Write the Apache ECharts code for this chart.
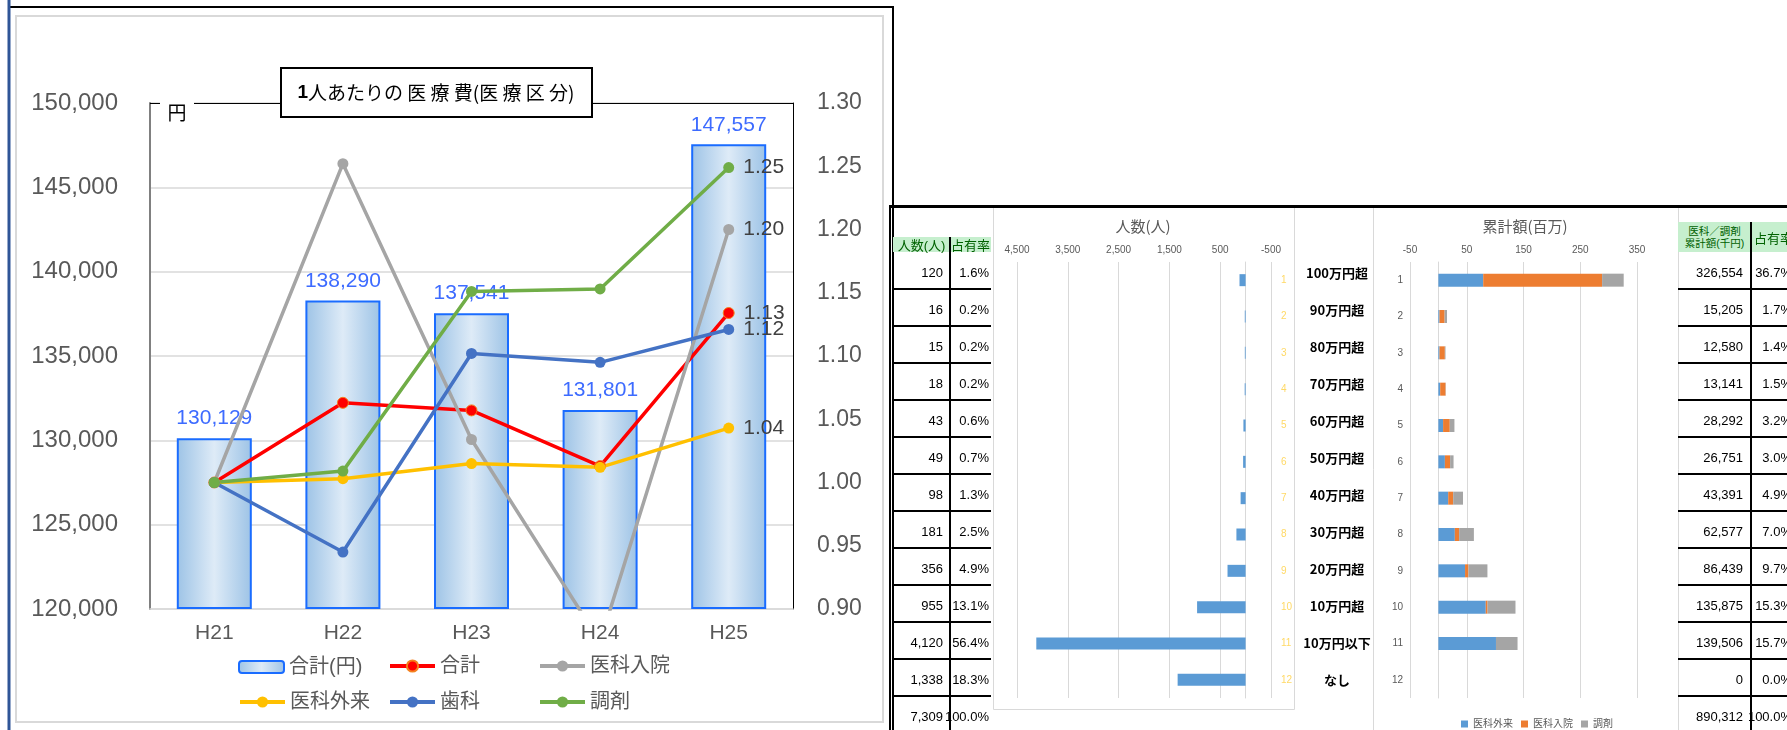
<!DOCTYPE html>
<html>
<head>
<meta charset="utf-8">
<script src="https://cdn.jsdelivr.net/npm/echarts@6/dist/echarts.min.js"></script>
<style>
  html, body { margin: 0; padding: 0; background: #fff; }
  #page { position: relative; width: 1787px; height: 730px; overflow: hidden; background: #fff; }
  #costChart { position: absolute; left: 0; top: 0; width: 896px; height: 730px; }
  #bandChart { position: absolute; left: 893px; top: 0; width: 894px; height: 730px; }
  .c { position: absolute; box-sizing: border-box; display: flex; align-items: center; white-space: nowrap;
       font-family: 'Liberation Sans', 'Noto Sans CJK JP', sans-serif; color: #000; }
</style>
</head>
<body>
<div id="page">
  <div id="costChart"></div>
  <div id="bandChart"></div>
</div>
<script>
// ---- 1人あたりの医療費 (H21 = 1.00 とした伸び率) ----
const years = ['H21', 'H22', 'H23', 'H24', 'H25'];
const totalYen = [130129, 138290, 137541, 131801, 147557];
const ratioTotal = [1.00, 1.063, 1.057, 1.013, 1.134];
const ratioInpatient = [1.00, 1.252, 1.034, 0.874, 1.200];
const ratioOutpatient = [1.00, 1.003, 1.015, 1.012, 1.043];
const ratioDental = [1.00, 0.945, 1.102, 1.095, 1.121];
const ratioPharmacy = [1.00, 1.009, 1.151, 1.153, 1.249];

// ---- 医療費階層別 ----
const bandNo = ['1', '2', '3', '4', '5', '6', '7', '8', '9', '10', '11', '12'];
const bandLabels = ['100万円超', '90万円超', '80万円超', '70万円超', '60万円超', '50万円超',
                    '40万円超', '30万円超', '20万円超', '10万円超', '10万円以下', 'なし'];
const people = [120, 16, 15, 18, 43, 49, 98, 181, 356, 955, 4120, 1338];
const peopleShare = ['1.6%', '0.2%', '0.2%', '0.2%', '0.6%', '0.7%', '1.3%', '2.5%', '4.9%', '13.1%', '56.4%', '18.3%'];
const peopleTotal = 7309;
const peopleTotalShare = '100.0%';
// 累計額 (百万円) の内訳
const outpatientM = [79.0, 2.0, 2.0, 3.2, 8.3, 11.5, 17.3, 29.0, 47.0, 83.5, 101.5, 0];
const inpatientM  = [209.5, 9.0, 9.4, 9.5, 11.8, 9.2, 8.8, 7.6, 6.0, 3.2, 0, 0];
const pharmacyM   = [38.054, 4.205, 1.18, 0.441, 8.192, 6.051, 17.291, 25.977, 33.439, 49.175, 38.006, 0];
const amountK = [326554, 15205, 12580, 13141, 28292, 26751, 43391, 62577, 86439, 135875, 139506, 0];
const amountShare = ['36.7%', '1.7%', '1.4%', '1.5%', '3.2%', '3.0%', '4.9%', '7.0%', '9.7%', '15.3%', '15.7%', '0.0%'];
const amountTotal = 890312;
const amountTotalShare = '100.0%';
const peopleTicks = [-500, 500, 1500, 2500, 3500, 4500];
const amountTicks = [-50, 50, 150, 250, 350];

const FONT = "'Liberation Sans', 'Noto Sans CJK JP', sans-serif";
const fmt = v => Number(v).toLocaleString('en-US');

// ================= 左: 1人あたりの医療費 =================
const costChart = echarts.init(document.getElementById('costChart'), null, { renderer: 'canvas' });

function ratioLine(name, data, color, extra) {
  return Object.assign({
    name, type: 'line', yAxisIndex: 1, data,
    symbol: 'circle', symbolSize: 11,
    lineStyle: { color, width: 3.5 },
    itemStyle: { color },
    label: {
      show: true, position: 'right', distance: 9, color: '#404040', fontSize: 21, fontFamily: FONT,
      formatter: p => (p.dataIndex === data.length - 1 ? p.value.toFixed(2) : '')
    },
    z: 3
  }, extra || {});
}

// 凡例は 3 列 × 2 行に並べる
const legendItems = [
  ['合計(円)', 233, 652, 12], ['合計', 383, 651, 14], ['医科入院', 533, 651, 14],
  ['医科外来', 233, 687, 14], ['歯科', 383, 687, 14], ['調剤', 533, 687, 14]
];
const legends = legendItems.map(([name, left, top, h]) => ({
  data: [name], left, top, itemWidth: 45, itemHeight: h, selectedMode: false,
  lineStyle: { width: 4 },
  textStyle: { color: '#595959', fontSize: 20, fontFamily: FONT }
}));

costChart.setOption({
  animation: false,
  textStyle: { fontFamily: FONT },
  grid: { left: 150, top: 103, width: 643, height: 506 },
  xAxis: {
    type: 'category', data: years,
    axisLine: { lineStyle: { color: '#d9d9d9', width: 1.5 } },
    axisTick: { show: false },
    axisLabel: { color: '#595959', fontSize: 21, margin: 14 }
  },
  yAxis: [
    {
      type: 'value', min: 120000, max: 150000, interval: 5000, startValue: 120000,
      axisLine: { show: true, lineStyle: { color: '#808080', width: 2 } },
      axisTick: { show: false },
      splitLine: { lineStyle: { color: '#d9d9d9', width: 1.5 } },
      axisLabel: { color: '#595959', fontSize: 24, margin: 32, formatter: fmt }
    },
    {
      type: 'value', min: 0.9, max: 1.3, interval: 0.05, position: 'right',
      axisLine: { show: true, lineStyle: { color: '#000', width: 1 } },
      axisTick: { show: false },
      splitLine: { show: false },
      axisLabel: { color: '#595959', fontSize: 23, margin: 24, formatter: v => v.toFixed(2) }
    }
  ],
  legend: legends,
  series: [
    {
      name: '合計(円)', type: 'bar', data: totalYen, barWidth: 75,
      itemStyle: {
        color: new echarts.graphic.LinearGradient(0, 0, 1, 0, [
          { offset: 0, color: '#9dc3e6' },
          { offset: 0.5, color: '#deebf7' },
          { offset: 1, color: '#9dc3e6' }
        ]),
        borderColor: '#1a6cff', borderWidth: 2
      },
      label: { show: true, position: 'top', distance: 9, color: '#3d6bff', fontSize: 21, formatter: p => fmt(p.value) },
      z: 2
    },
    ratioLine('合計', ratioTotal, '#ff0000', { itemStyle: { color: '#ff0000', borderColor: '#f4811f', borderWidth: 1 } }),
    ratioLine('医科入院', ratioInpatient, '#a5a5a5'),
    ratioLine('医科外来', ratioOutpatient, '#ffc000'),
    ratioLine('歯科', ratioDental, '#4472c4'),
    ratioLine('調剤', ratioPharmacy, '#70ad47')
  ],
  graphic: [
    { type: 'line', shape: { x1: 9, y1: 7, x2: 894, y2: 7 }, style: { stroke: '#000', lineWidth: 2 }, z: 50 },
    { type: 'line', shape: { x1: 9, y1: 0, x2: 9, y2: 730 }, style: { stroke: '#2f5597', lineWidth: 3 }, z: 50 },
    { type: 'line', shape: { x1: 893, y1: 7, x2: 893, y2: 730 }, style: { stroke: '#000', lineWidth: 2 }, z: 50 },
    { type: 'rect', shape: { x: 16, y: 16, width: 867, height: 706 }, style: { fill: 'none', stroke: '#d9d9d9', lineWidth: 2 }, z: 50 },
    { type: 'line', shape: { x1: 150, y1: 103.5, x2: 793, y2: 103.5 }, style: { stroke: '#000', lineWidth: 1 }, z: 50 },
    { type: 'rect', shape: { x: 160, y: 99, width: 34, height: 9 }, style: { fill: '#fff' }, z: 51 },
    { type: 'text', x: 177, y: 113, style: { text: '円', fill: '#000', font: "19px 'Noto Sans CJK JP'", align: 'center', verticalAlign: 'middle' }, z: 52 },
    { type: 'rect', shape: { x: 281, y: 68, width: 311, height: 49 }, style: { fill: '#fff', stroke: '#000', lineWidth: 2 }, z: 51 },
    {
      type: 'text', x: 436, y: 93, z: 52,
      style: {
        text: '{b|1}人あたりの 医 療 費(医 療 区 分)',
        rich: { b: { font: "bold 19px 'Liberation Sans'", fill: '#000' } },
        font: "19px 'Noto Sans CJK JP'", fill: '#000', align: 'center', verticalAlign: 'middle'
      }
    }
  ]
});

// ================= 右: 医療費階層別の人数・累計額 =================
const bandChart = echarts.init(document.getElementById('bandChart'), null, { renderer: 'canvas' });
const stackBar = (name, data, color) => ({
  name, type: 'bar', stack: 'amount', xAxisIndex: 1, yAxisIndex: 1, data, barWidth: 13,
  itemStyle: { color }
});

bandChart.setOption({
  animation: false,
  textStyle: { fontFamily: FONT },
  grid: [
    { left: 124, right: 516, top: 262, bottom: 32 },
    { left: 517, right: 150, top: 262, bottom: 32 }
  ],
  xAxis: [
    {
      gridIndex: 0, type: 'value', inverse: true, min: -500, max: 4500, position: 'top',
      axisLine: { show: false },
      axisTick: { show: false, customValues: peopleTicks },
      axisLabel: { customValues: peopleTicks, color: '#595959', fontSize: 10, margin: 7, formatter: fmt },
      splitLine: { show: true, lineStyle: { color: '#d9d9d9' } }
    },
    {
      gridIndex: 1, type: 'value', min: -50, max: 350, position: 'top',
      axisLine: { show: false },
      axisTick: { show: false, customValues: amountTicks },
      axisLabel: { customValues: amountTicks, color: '#595959', fontSize: 10, margin: 7, formatter: fmt },
      splitLine: { show: true, lineStyle: { color: '#d9d9d9' } }
    }
  ],
  yAxis: [
    {
      gridIndex: 0, type: 'category', data: bandNo, inverse: true, position: 'right',
      axisLine: { onZero: true, lineStyle: { color: '#d9d9d9' } },
      axisTick: { inside: true, length: 4, lineStyle: { color: '#d9d9d9' } },
      axisLabel: { color: '#ffd966', fontSize: 10, margin: 10 }
    },
    {
      gridIndex: 1, type: 'category', data: bandNo, inverse: true, position: 'left',
      axisLine: { onZero: true, lineStyle: { color: '#d9d9d9' } },
      axisTick: { length: 4, lineStyle: { color: '#d9d9d9' } },
      axisLabel: { color: '#595959', fontSize: 10, margin: 7 }
    }
  ],
  legend: {
    data: ['医科外来', '医科入院', '調剤'], left: 563, top: 714, icon: 'rect',
    itemWidth: 7, itemHeight: 7, itemGap: 8, selectedMode: false,
    textStyle: { color: '#595959', fontSize: 10 }
  },
  series: [
    { name: '人数', type: 'bar', xAxisIndex: 0, yAxisIndex: 0, data: people, barWidth: 12, itemStyle: { color: '#5b9bd5' } },
    stackBar('医科外来', outpatientM, '#5b9bd5'),
    stackBar('医科入院', inpatientM, '#ed7d31'),
    stackBar('調剤', pharmacyM, '#a5a5a5')
  ],
  graphic: [
    { type: 'rect', shape: { x: 100.5, y: 207.5, width: 301, height: 502 }, style: { fill: 'none', stroke: '#d9d9d9', lineWidth: 1 } },
    { type: 'rect', shape: { x: 480.5, y: 207.5, width: 305, height: 540 }, style: { fill: 'none', stroke: '#d9d9d9', lineWidth: 1 } },
    { type: 'text', x: 250, y: 226, style: { text: '人数(人)', fill: '#595959', font: "15px 'Noto Sans CJK JP'", align: 'center', verticalAlign: 'middle' } },
    { type: 'text', x: 632, y: 226, style: { text: '累計額(百万)', fill: '#595959', font: "15px 'Noto Sans CJK JP'", align: 'center', verticalAlign: 'middle' } }
  ]
});

// ================= 表 =================
const page = document.getElementById('page');
const ROW_TOP = 252, ROW_H = 37;
function block(x, y, w, h, css) {
  const d = document.createElement('div');
  d.className = 'c';
  d.style.cssText += `left:${x}px;top:${y}px;width:${w}px;height:${h}px;${css || ''}`;
  page.appendChild(d);
  return d;
}
function cell(x, y, w, h, text, css) {
  const d = block(x, y, w, h, css);
  d.textContent = text;
  return d;
}
const numCss = pad => `justify-content:flex-end;padding-right:${pad}px;padding-top:3px;font-size:13px;`;
const headCss = 'background:#c6efce;color:#006100;justify-content:center;';

// 枠線
block(890, 205, 897, 3, 'background:#000;');
block(889, 205, 2, 525, 'background:#000;');

// 左の表: 人数・占有率
cell(893, 237, 57, 15, '人数(人)', headCss + 'font-size:13px;');
cell(950, 237, 41, 15, '占有率', headCss + 'font-size:13px;');
const peopleRows = people.map((v, i) => [fmt(v), peopleShare[i]]).concat([[fmt(peopleTotal), peopleTotalShare]]);
peopleRows.forEach((r, i) => {
  const y = ROW_TOP + ROW_H * i;
  cell(893, y, 57, ROW_H, r[0], numCss(7));
  cell(950, y, 41, ROW_H, r[1], numCss(2));
  block(893, y + ROW_H - 1, 98, 2, 'background:#000;');
});
block(949, 237, 2, 500, 'background:#000;');

// 中央: 階層名
bandLabels.forEach((t, i) => {
  cell(1297, ROW_TOP + ROW_H * i, 80, ROW_H, t, 'justify-content:center;font-weight:bold;font-size:13px;padding-top:3px;font-family:"Noto Sans CJK JP",sans-serif;');
});

// 右の表: 累計額・占有率
cell(1678, 222, 73, 30, '医科／調剤\n累計額(千円)', headCss + 'font-size:10.5px;line-height:12px;white-space:pre;text-align:center;');
cell(1751, 222, 45, 30, '占有率', headCss + 'font-size:13px;');
const amountRows = amountK.map((v, i) => [fmt(v), amountShare[i]]).concat([[fmt(amountTotal), amountTotalShare]]);
amountRows.forEach((r, i) => {
  const y = ROW_TOP + ROW_H * i;
  cell(1678, y, 73, ROW_H, r[0], numCss(8));
  cell(1751, y, 45, ROW_H, r[1], numCss(4));
  block(1678, y + ROW_H - 1, 118, 2, 'background:#000;');
});
block(1750, 222, 2, 520, 'background:#000;');
</script>
</body>
</html>
